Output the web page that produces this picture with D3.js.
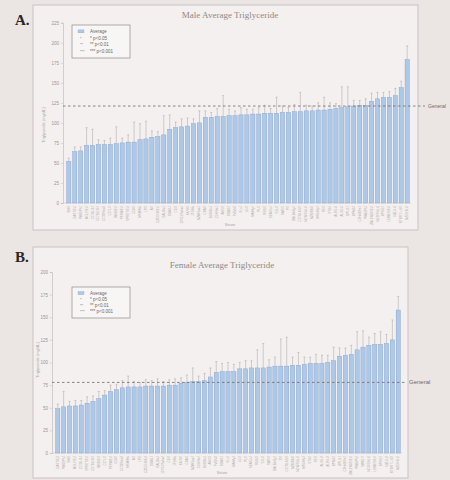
<!DOCTYPE html>
<html>
<head>
<meta charset="utf-8">
<script src="https://cdn.jsdelivr.net/npm/d3@7"></script>
<style>
  html, body { margin: 0; padding: 0; background: #ebe6e4; }
  svg { display: block; }
</style>
</head>
<body>
<svg id="fig" width="450" height="480"></svg>
<script>
// ---- data: male panel (mg/dL, sorted by mean) ----
const maleStrains = [
  "SM/J","CAST/EiJ","PWD/PhJ","MOLF/EiJ","C57BL/6J","C57BL/10J","C57BR/cdJ","C57L/J","WSB/EiJ","PERA/EiJ",
  "SPRET/EiJ","C58/J","MSM/Ms","LP/J","A/J","CZECHII/EiJ","BALB/cJ","DBA/1J","CE/J","129S1/SvImJ",
  "KK/HlJ","JF1/Ms","NZW/LacJ","CBA/J","BUB/BnJ","C3H/HeJ","AKR/J","DBA/2J","FVB/NJ","I/LnJ",
  "LG/J","MA/MyJ","PL/J","RIIIS/J","SEA/GnJ","SJL/J","SWR/J","P/J","BALB/cByJ","C57BLKS/J",
  "NON/ShiLtJ","NZB/BlNJ","MRL/MpJ","RF/J","ST/bJ","ALR/LtJ","ALS/LtJ","BPL/1J","BPN/3J","C3HeB/FeJ",
  "PWK/PhJ","ZALENDE/EiJ","NOD/ShiLtJ","BPH/2J","LEWES/EiJ","NZL/LtJ","BTBR T+ tf/J","NZO/HlLtJ"
];
const maleTG = [
  52, 64, 65, 72, 72, 73, 73, 73, 74, 75,
  76, 76, 79, 80, 82, 83, 85, 92, 94, 95,
  96, 99, 100, 107, 107, 108, 108, 109, 109, 110,
  110, 111, 111, 112, 112, 112, 113, 113, 114, 114,
  115, 115, 116, 116, 117, 118, 119, 120, 121, 122,
  122, 127, 130, 132, 132, 134, 144, 179
];
const maleSD = [
  4, 6, 5, 22, 20, 6, 5, 8, 21, 6,
  9, 25, 20, 22, 8, 6, 24, 18, 7, 10,
  10, 6, 15, 8, 6, 10, 26, 8, 6, 9,
  7, 6, 8, 10, 6, 20, 8, 6, 9, 24,
  7, 6, 9, 16, 8, 6, 26, 25, 7, 6,
  8, 10, 8, 6, 7, 9, 8, 17
];
const maleGeneral = 121;
const maleTicks = [0, 25, 50, 75, 100, 125, 150, 175, 200, 225];

// ---- data: female panel (mg/dL, sorted by mean) ----
const femaleStrains = [
  "CAST/EiJ","PWD/PhJ","SM/J","MOLF/EiJ","C57BL/6J","SPRET/EiJ","C57BL/10J","WSB/EiJ","C57L/J","PERA/EiJ",
  "C58/J","C57BR/cdJ","MSM/Ms","A/J","LP/J","CZECHII/EiJ","DBA/1J","BALB/cJ","129S1/SvImJ","CE/J",
  "JF1/Ms","KK/HlJ","CBA/J","NZW/LacJ","C3H/HeJ","BUB/BnJ","AKR/J","FVB/NJ","DBA/2J","I/LnJ",
  "MA/MyJ","LG/J","PL/J","SEA/GnJ","RIIIS/J","SJL/J","SWR/J","BALB/cByJ","P/J","C57BLKS/J",
  "NZB/BlNJ","NON/ShiLtJ","MRL/MpJ","ST/bJ","RF/J","ALS/LtJ","ALR/LtJ","BPN/3J","BPL/1J","C3HeB/FeJ",
  "ZALENDE/EiJ","PWK/PhJ","SWXJ-9","NOD/ShiLtJ","LEWES/EiJ","BPH/2J","NZL/LtJ","BTBR T+ tf/J","NZO/HlLtJ"
];
const femaleTG = [
  49, 51, 52, 52, 53, 55, 57, 60, 64, 68,
  70, 72, 73, 73, 73, 74, 74, 74, 74, 75,
  75, 77, 78, 79, 79, 80, 84, 89, 90, 90,
  90, 93, 93, 94, 94, 94, 95, 96, 96, 96,
  97, 97, 98, 99, 99, 99, 100, 102, 107, 108,
  109, 114, 117, 119, 120, 120, 121, 125, 158
];
const femaleSD = [
  5, 17, 5, 6, 5, 7, 6, 8, 5, 7,
  6, 8, 12, 6, 5, 7, 6, 8, 5, 6,
  7, 6, 8, 15, 6, 8, 10, 12, 9, 10,
  8, 7, 9, 8, 20, 27, 8, 10, 30, 32,
  9, 14, 8, 7, 10, 9, 8, 15, 9, 8,
  10, 20, 18, 9, 12, 14, 10, 22, 15
];
const femaleGeneral = 78;
const femaleTicks = [0, 25, 50, 75, 100, 125, 150, 175, 200];

const legendLabels = ["Average", "* p<0.05", "** p<0.01", "*** p<0.001"];
const legendMarks = ["", "*", "**", "***"];

// ---- drawing ----
const svg = d3.select("#fig");

function drawPanel(cfg) {
  const g = svg.append("g");

  // outer chart frame
  g.append("rect")
    .attr("x", cfg.frame[0]).attr("y", cfg.frame[1])
    .attr("width", cfg.frame[2]).attr("height", cfg.frame[3])
    .attr("fill", "#f3f0ef").attr("stroke", "#c9c4c3").attr("stroke-width", 1);

  // panel letter
  svg.append("text")
    .attr("x", cfg.letterAt[0]).attr("y", cfg.letterAt[1])
    .attr("font-family", "Liberation Serif, serif").attr("font-weight", "bold")
    .attr("font-size", 15).attr("fill", "#2b2626")
    .text(cfg.letter);

  // title
  g.append("text")
    .attr("x", cfg.titleAt[0]).attr("y", cfg.titleAt[1])
    .attr("text-anchor", "middle")
    .attr("font-family", "Liberation Serif, serif").attr("font-size", 9)
    .attr("fill", "#8e8888")
    .text(cfg.title);

  const x = d3.scaleBand().domain(cfg.cats).range(cfg.xRange).padding(0.28);
  const y = d3.scaleLinear().domain([0, d3.max(cfg.ticks)]).range(cfg.yRange);

  // y axis
  const yAxis = g.append("g")
    .attr("transform", `translate(${cfg.axisX},0)`)
    .call(d3.axisLeft(y).tickValues(cfg.ticks).tickSize(2).tickPadding(2));
  yAxis.select(".domain").attr("stroke", "#bdb7b6").attr("stroke-width", 0.6);
  yAxis.selectAll(".tick line").attr("stroke", "#bdb7b6").attr("stroke-width", 0.5);
  yAxis.selectAll(".tick text")
    .attr("font-family", "Liberation Sans, sans-serif").attr("font-size", 4.5)
    .attr("fill", "#9d9696");

  // baseline
  g.append("line")
    .attr("x1", cfg.axisX).attr("x2", cfg.xRange[1])
    .attr("y1", y(0)).attr("y2", y(0))
    .attr("stroke", "#c4bebd").attr("stroke-width", 0.5);

  // y axis title
  g.append("text")
    .attr("transform", `translate(${cfg.yTitleAt[0]},${cfg.yTitleAt[1]}) rotate(-90)`)
    .attr("text-anchor", "middle")
    .attr("font-family", "Liberation Sans, sans-serif").attr("font-size", 4)
    .attr("fill", "#a9a2a2")
    .text("Triglyceride (mg/dL)");

  // bars
  const data = cfg.cats.map((c, i) => ({ c, v: cfg.vals[i], e: cfg.errs[i] }));
  g.append("g").selectAll("rect").data(data).join("rect")
    .attr("x", d => x(d.c)).attr("width", x.bandwidth())
    .attr("y", d => y(d.v)).attr("height", d => y(0) - y(d.v))
    .attr("fill", "#aec8e8").attr("stroke", "#7f9fcc").attr("stroke-width", 0.4);

  // error bars
  const eb = g.append("g").attr("stroke", "#a8a2a2").attr("stroke-width", 0.5);
  eb.selectAll("line.v").data(data).join("line").attr("class", "v")
    .attr("x1", d => x(d.c) + x.bandwidth() / 2).attr("x2", d => x(d.c) + x.bandwidth() / 2)
    .attr("y1", d => y(d.v)).attr("y2", d => y(d.v + d.e));
  eb.selectAll("line.c").data(data).join("line").attr("class", "c")
    .attr("x1", d => x(d.c) + x.bandwidth() / 2 - 1).attr("x2", d => x(d.c) + x.bandwidth() / 2 + 1)
    .attr("y1", d => y(d.v + d.e)).attr("y2", d => y(d.v + d.e));

  // category labels
  g.append("g").selectAll("text").data(cfg.cats).join("text")
    .attr("transform", d => `translate(${x(d) + x.bandwidth() / 2 + 1},${y(0) + 3}) rotate(-90)`)
    .attr("text-anchor", "end")
    .attr("font-family", "Liberation Sans, sans-serif").attr("font-size", 3)
    .attr("fill", "#b3acac")
    .text(d => d);

  // x axis title
  g.append("text")
    .attr("x", cfg.xTitleAt[0]).attr("y", cfg.xTitleAt[1])
    .attr("text-anchor", "middle")
    .attr("font-family", "Liberation Sans, sans-serif").attr("font-size", 4)
    .attr("fill", "#a9a2a2")
    .text("Strain");

  // general average reference line
  svg.append("line")
    .attr("x1", cfg.axisX).attr("x2", cfg.generalEnd)
    .attr("y1", y(cfg.general)).attr("y2", y(cfg.general))
    .attr("stroke", "#6f6868").attr("stroke-width", 0.8)
    .attr("stroke-dasharray", "2.5,2.5");
  svg.append("text")
    .attr("x", cfg.generalEnd + 3).attr("y", y(cfg.general) + 2)
    .attr("font-family", "Liberation Sans, sans-serif").attr("font-size", cfg.generalSize)
    .attr("fill", "#6f6868")
    .text("General");

  // legend
  const lg = g.append("g").attr("transform", `translate(${cfg.legend[0]},${cfg.legend[1]})`);
  lg.append("rect").attr("width", cfg.legend[2]).attr("height", cfg.legend[3])
    .attr("fill", "#f8f6f5").attr("stroke", "#8f8a8a").attr("stroke-width", 0.7);
  const rowH = (cfg.legend[3] - 6) / legendLabels.length;
  legendLabels.forEach((t, i) => {
    const ry = 3 + rowH * (i + 0.5);
    if (i === 0) {
      lg.append("rect").attr("x", 6).attr("y", ry - 1.5).attr("width", 6).attr("height", 3)
        .attr("fill", "#aec8e8").attr("stroke", "#7f9fcc").attr("stroke-width", 0.3);
    } else {
      lg.append("text").attr("x", 8).attr("y", ry + 1.5)
        .attr("font-family", "Liberation Sans, sans-serif").attr("font-size", 4)
        .attr("fill", "#777").text(legendMarks[i]);
    }
    lg.append("text").attr("x", 18).attr("y", ry + 1.5)
      .attr("font-family", "Liberation Sans, sans-serif").attr("font-size", 4.5)
      .attr("fill", "#6b6565").text(t);
  });
}

drawPanel({
  letter: "A.", letterAt: [15, 25],
  title: "Male Average Triglyceride", titleAt: [230, 18],
  frame: [33, 5, 385, 225],
  cats: maleStrains, vals: maleTG, errs: maleSD, ticks: maleTicks,
  general: maleGeneral, generalEnd: 425, generalSize: 5,
  xRange: [65, 411], yRange: [203, 22.7], axisX: 63,
  yTitleAt: [45, 125], xTitleAt: [230, 226],
  legend: [72, 25, 58, 33]
});

drawPanel({
  letter: "B.", letterAt: [15, 262],
  title: "Female Average Triglyceride", titleAt: [222, 268],
  frame: [33, 247, 375, 231],
  cats: femaleStrains, vals: femaleTG, errs: femaleSD, ticks: femaleTicks,
  general: femaleGeneral, generalEnd: 406, generalSize: 6,
  xRange: [54, 402], yRange: [453, 272], axisX: 52,
  yTitleAt: [39, 360], xTitleAt: [222, 474],
  legend: [72, 287, 58, 31]
});
</script>
</body>
</html>
